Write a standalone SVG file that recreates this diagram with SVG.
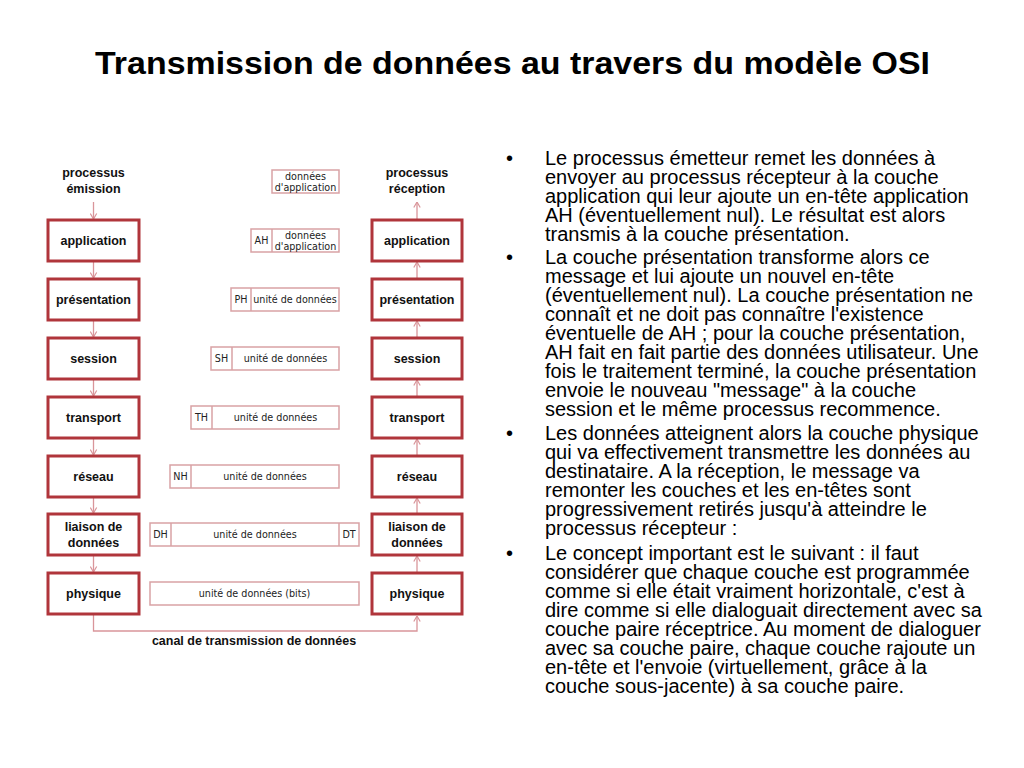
<svg xmlns="http://www.w3.org/2000/svg" width="1024" height="768" viewBox="0 0 1024 768">
<style>
.title{font-family:"Liberation Sans",Arial,sans-serif;font-weight:bold;font-size:32px;fill:#000}
.body{font-family:"Liberation Sans",Arial,sans-serif;font-size:20px;fill:#000}
.layer{fill:#fff;stroke:#b0353b;stroke-width:3}
.lt{font-family:"Liberation Sans",Arial,sans-serif;font-weight:bold;font-size:12.5px;fill:#111;text-anchor:middle}
.pdu{fill:#fff;stroke:#d9a2a5;stroke-width:1.5}
.pt{font-family:"DejaVu Sans",Verdana,sans-serif;font-size:9.6px;fill:#222;text-anchor:middle}
.conn{fill:none;stroke:#d9959a;stroke-width:1.3}
</style>
<defs>
<marker id="ah" viewBox="0 0 8 8" refX="7.5" refY="4" markerWidth="8" markerHeight="8" markerUnits="userSpaceOnUse" orient="auto">
<path d="M2,0.8 L7.5,4 L2,7.2" fill="none" stroke="#d9959a" stroke-width="1.2"/>
</marker>
</defs>
<rect width="1024" height="768" fill="#fff"/>
<text class="title" x="512.5" y="74" text-anchor="middle" textLength="835" lengthAdjust="spacingAndGlyphs">Transmission de données au travers du modèle OSI</text>

<g id="connectors">
<path class="conn" marker-end="url(#ah)" d="M93.5,202 V219"/>
<path class="conn" marker-end="url(#ah)" d="M93.5,262 V278"/>
<path class="conn" marker-end="url(#ah)" d="M93.5,321 V337"/>
<path class="conn" marker-end="url(#ah)" d="M93.5,380 V396"/>
<path class="conn" marker-end="url(#ah)" d="M93.5,439 V455"/>
<path class="conn" marker-end="url(#ah)" d="M93.5,498 V513"/>
<path class="conn" marker-end="url(#ah)" d="M93.5,556 V572"/>
<path class="conn" marker-end="url(#ah)" d="M417,219 V202"/>
<path class="conn" marker-end="url(#ah)" d="M417,278 V262"/>
<path class="conn" marker-end="url(#ah)" d="M417,337 V321"/>
<path class="conn" marker-end="url(#ah)" d="M417,396 V380"/>
<path class="conn" marker-end="url(#ah)" d="M417,455 V439"/>
<path class="conn" marker-end="url(#ah)" d="M417,513 V498"/>
<path class="conn" marker-end="url(#ah)" d="M417,572 V556"/>
<path class="conn" marker-end="url(#ah)" d="M93.5,615 V631 H417 V616"/>
</g>

<g id="proc-emission"><text class="lt" x="93.5" y="177">processus</text><text class="lt" x="93.5" y="193">émission</text></g>
<g id="proc-reception"><text class="lt" x="417" y="177">processus</text><text class="lt" x="417" y="193">réception</text></g>
<g id="canal"><text class="lt" x="254" y="645">canal de transmission de données</text></g>

<g id="l-app"><rect class="layer" x="48" y="220" width="91" height="41"/><text class="lt" x="93.5" y="245">application</text></g>
<g id="l-pres"><rect class="layer" x="48" y="279" width="91" height="41"/><text class="lt" x="93.5" y="304">présentation</text></g>
<g id="l-sess"><rect class="layer" x="48" y="338" width="91" height="41"/><text class="lt" x="93.5" y="363">session</text></g>
<g id="l-trans"><rect class="layer" x="48" y="397" width="91" height="41"/><text class="lt" x="93.5" y="422">transport</text></g>
<g id="l-res"><rect class="layer" x="48" y="456" width="91" height="41"/><text class="lt" x="93.5" y="481">réseau</text></g>
<g id="l-liai"><rect class="layer" x="48" y="514" width="91" height="41"/><text class="lt" x="93.5" y="531">liaison de</text><text class="lt" x="93.5" y="547">données</text></g>
<g id="l-phys"><rect class="layer" x="48" y="573" width="91" height="41"/><text class="lt" x="93.5" y="598">physique</text></g>

<g id="r-app"><rect class="layer" x="372" y="220" width="90" height="41"/><text class="lt" x="417" y="245">application</text></g>
<g id="r-pres"><rect class="layer" x="372" y="279" width="90" height="41"/><text class="lt" x="417" y="304">présentation</text></g>
<g id="r-sess"><rect class="layer" x="372" y="338" width="90" height="41"/><text class="lt" x="417" y="363">session</text></g>
<g id="r-trans"><rect class="layer" x="372" y="397" width="90" height="41"/><text class="lt" x="417" y="422">transport</text></g>
<g id="r-res"><rect class="layer" x="372" y="456" width="90" height="41"/><text class="lt" x="417" y="481">réseau</text></g>
<g id="r-liai"><rect class="layer" x="372" y="514" width="90" height="41"/><text class="lt" x="417" y="531">liaison de</text><text class="lt" x="417" y="547">données</text></g>
<g id="r-phys"><rect class="layer" x="372" y="573" width="90" height="41"/><text class="lt" x="417" y="598">physique</text></g>

<g id="pdu-data"><rect class="pdu" x="272" y="170" width="67" height="23"/><text class="pt" x="305.5" y="180">données</text><text class="pt" x="305.5" y="190.5">d'application</text></g>
<g id="pdu-ah"><rect class="pdu" x="251" y="229" width="88" height="23"/><line class="pdu" x1="272" y1="229" x2="272" y2="252"/><text class="pt" x="261.5" y="244">AH</text><text class="pt" x="305.5" y="238.5">données</text><text class="pt" x="305.5" y="249.5">d'application</text></g>
<g id="pdu-ph"><rect class="pdu" x="231" y="288" width="108" height="23"/><line class="pdu" x1="251" y1="288" x2="251" y2="311"/><text class="pt" x="241" y="303">PH</text><text class="pt" x="295" y="303">unité de données</text></g>
<g id="pdu-sh"><rect class="pdu" x="211" y="347" width="128" height="23"/><line class="pdu" x1="232" y1="347" x2="232" y2="370"/><text class="pt" x="221.5" y="362">SH</text><text class="pt" x="285.5" y="362">unité de données</text></g>
<g id="pdu-th"><rect class="pdu" x="191" y="406" width="148" height="23"/><line class="pdu" x1="212" y1="406" x2="212" y2="429"/><text class="pt" x="201.5" y="421">TH</text><text class="pt" x="275.5" y="421">unité de données</text></g>
<g id="pdu-nh"><rect class="pdu" x="170" y="465" width="169" height="23"/><line class="pdu" x1="191" y1="465" x2="191" y2="488"/><text class="pt" x="180.5" y="480">NH</text><text class="pt" x="265" y="480">unité de données</text></g>
<g id="pdu-dh"><rect class="pdu" x="150" y="523" width="209" height="23"/><line class="pdu" x1="171" y1="523" x2="171" y2="546"/><line class="pdu" x1="339" y1="523" x2="339" y2="546"/><text class="pt" x="160.5" y="538">DH</text><text class="pt" x="255" y="538">unité de données</text><text class="pt" x="349" y="538">DT</text></g>
<g id="pdu-bits"><rect class="pdu" x="150" y="582" width="209" height="23"/><text class="pt" x="254.5" y="597">unité de données (bits)</text></g>

<g id="bullets" class="body">
<text x="506" y="164.5">•</text>
<text x="545" y="164.5">Le processus émetteur remet les données à</text>
<text x="545" y="183.6">envoyer au processus récepteur à la couche</text>
<text x="545" y="202.7">application qui leur ajoute un en-tête application</text>
<text x="545" y="221.8">AH (éventuellement nul). Le résultat est alors</text>
<text x="545" y="240.9">transmis à la couche présentation.</text>
<text x="506" y="263.5">•</text>
<text x="545" y="263.5">La couche présentation transforme alors ce</text>
<text x="545" y="282.6">message et lui ajoute un nouvel en-tête</text>
<text x="545" y="301.7">(éventuellement nul). La couche présentation ne</text>
<text x="545" y="320.8">connaît et ne doit pas connaître l'existence</text>
<text x="545" y="339.9">éventuelle de AH ; pour la couche présentation,</text>
<text x="545" y="359">AH fait en fait partie des données utilisateur. Une</text>
<text x="545" y="378.1">fois le traitement terminé, la couche présentation</text>
<text x="545" y="397.2">envoie le nouveau "message" à la couche</text>
<text x="545" y="416.3">session et le même processus recommence.</text>
<text x="506" y="439.5">•</text>
<text x="545" y="439.5">Les données atteignent alors la couche physique</text>
<text x="545" y="458.6">qui va effectivement transmettre les données au</text>
<text x="545" y="477.7">destinataire. A la réception, le message va</text>
<text x="545" y="496.8">remonter les couches et les en-têtes sont</text>
<text x="545" y="515.9">progressivement retirés jusqu'à atteindre le</text>
<text x="545" y="535">processus récepteur :</text>
<text x="506" y="559.5">•</text>
<text x="545" y="559.5">Le concept important est le suivant : il faut</text>
<text x="545" y="578.6">considérer que chaque couche est programmée</text>
<text x="545" y="597.7">comme si elle était vraiment horizontale, c'est à</text>
<text x="545" y="616.8">dire comme si elle dialoguait directement avec sa</text>
<text x="545" y="635.9">couche paire réceptrice. Au moment de dialoguer</text>
<text x="545" y="655">avec sa couche paire, chaque couche rajoute un</text>
<text x="545" y="674.1">en-tête et l'envoie (virtuellement, grâce à la</text>
<text x="545" y="693.2">couche sous-jacente) à sa couche paire.</text>
</g>
</svg>
